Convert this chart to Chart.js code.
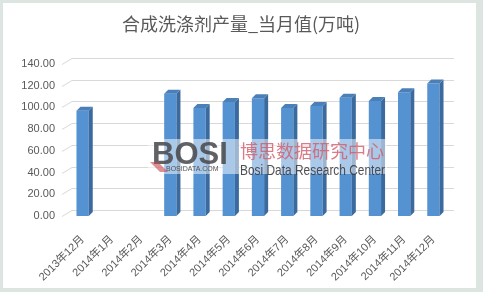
<!DOCTYPE html>
<html>
<head>
<meta charset="utf-8">
<script src="https://cdn.jsdelivr.net/npm/chart.js@4.4.1/dist/chart.umd.min.js"></script>
<style>
html,body{margin:0;padding:0;background:#dce5e0;}
#wrap{width:483px;height:292px;}
</style>
</head>
<body>
<div id="wrap"><canvas id="c" width="483" height="292"></canvas></div>
<script>
const titleText = '合成洗涤剂产量_当月值(万吨)';
const categories = ['2013年12月','2014年1月','2014年2月','2014年3月','2014年4月','2014年5月','2014年6月','2014年7月','2014年8月','2014年9月','2014年10月','2014年11月','2014年12月'];
const values = [97, null, null, 112.5, 99.5, 105, 108.5, 99.5, 101.3, 109, 106, 114, 122];
const yMin = 0, yMax = 140, yStep = 20;

const FONT = '"Liberation Sans", "Noto Sans CJK SC", sans-serif';
const DEPTH = 4;

const framePlugin = {
  id: 'frame',
  beforeDraw(chart) {
    const ctx = chart.ctx;
    ctx.save();
    ctx.fillStyle = '#dce5e0';
    ctx.fillRect(0, 0, chart.width, chart.height);
    ctx.fillStyle = '#ffffff';
    ctx.fillRect(3, 3, 473, 285);
    ctx.fillStyle = '#595959';
    ctx.font = '18px "Noto Sans CJK SC", sans-serif';
    ctx.textAlign = 'center';
    ctx.textBaseline = 'middle';
    ctx.fillText(titleText, 241, 24);
    ctx.restore();
  }
};

const wallGrid = {
  id: 'wallGrid',
  beforeDatasetsDraw(chart) {
    const ctx = chart.ctx, ys = chart.scales.y, ca = chart.chartArea;
    ctx.save();
    ctx.strokeStyle = '#d9d9d9';
    ctx.lineWidth = 1;
    ys.ticks.forEach(t => {
      const y = Math.round(ys.getPixelForValue(t.value)) + 0.5;
      ctx.beginPath();
      ctx.moveTo(ca.left - 6, y);
      ctx.lineTo(ca.left + 4, y - 6);
      ctx.lineTo(ca.right + 6, y - 6);
      ctx.stroke();
    });
    ctx.restore();
  }
};

const bars3d = {
  id: 'bars3d',
  afterDatasetsDraw(chart) {
    const ctx = chart.ctx;
    const meta = chart.getDatasetMeta(0);
    ctx.save();
    meta.data.forEach((el, i) => {
      if (values[i] == null) return;
      const w = el.width, l = el.x - w / 2, r = el.x + w / 2, top = el.y, base = el.base;
      ctx.fillStyle = '#3a6a9e';
      ctx.beginPath();
      ctx.moveTo(r, top);
      ctx.lineTo(r + DEPTH, top - DEPTH);
      ctx.lineTo(r + DEPTH, base - DEPTH);
      ctx.lineTo(r, base);
      ctx.closePath();
      ctx.fill();
      ctx.fillStyle = '#4a7fb8';
      ctx.beginPath();
      ctx.moveTo(l, top);
      ctx.lineTo(l + DEPTH, top - DEPTH);
      ctx.lineTo(r + DEPTH, top - DEPTH);
      ctx.lineTo(r, top);
      ctx.closePath();
      ctx.fill();
    });
    ctx.restore();
  }
};

const watermark = {
  id: 'watermark',
  afterDraw(chart) {
    const ctx = chart.ctx;
    ctx.save();
    ctx.fillStyle = 'rgba(255,255,255,0.5)';
    ctx.fillRect(148, 139, 239, 35);
    ctx.fillStyle = 'rgba(70,70,75,0.85)';
    ctx.font = 'bold 31px "Liberation Sans", sans-serif';
    ctx.textBaseline = 'alphabetic';
    ctx.textAlign = 'left';
    ctx.fillText('BOSI', 152, 164, 86);
    ctx.fillStyle = 'rgba(200,70,80,0.6)';
    ctx.beginPath();
    ctx.moveTo(150, 162); ctx.lineTo(158, 162); ctx.lineTo(168, 172); ctx.lineTo(160, 172); ctx.closePath();
    ctx.fill();
    ctx.fillStyle = 'rgba(70,70,75,0.9)';
    ctx.font = '7px "Liberation Sans", sans-serif';
    ctx.fillText('BOSIDATA.COM', 166, 171, 66);
    ctx.fillStyle = 'rgba(210,90,105,0.8)';
    ctx.font = '18px "Noto Sans CJK SC", sans-serif';
    ctx.fillText('博思数据研究中心', 240, 158, 146);
    ctx.fillStyle = 'rgba(60,60,65,0.9)';
    ctx.font = '15px "Liberation Sans", sans-serif';
    ctx.fillText('Bosi Data Research Center', 240, 175, 145);
    ctx.restore();
  }
};

new Chart(document.getElementById('c'), {
  type: 'bar',
  data: {
    labels: categories,
    datasets: [{
      data: values,
      backgroundColor: '#5592d2',
      borderWidth: 0,
      categoryPercentage: 1.0,
      barPercentage: 0.42
    }]
  },
  options: {
    responsive: false,
    animation: false,
    devicePixelRatio: 1,
    layout: { padding: { left: 10, right: 35, top: 64, bottom: 6 } },
    plugins: {
      legend: { display: false },
      tooltip: { enabled: false },
      title: { display: false }
    },
    scales: {
      y: {
        min: yMin, max: yMax,
        ticks: {
          stepSize: yStep,
          color: '#595959',
          font: { family: FONT, size: 11 },
          padding: 13,
          callback: v => Number(v).toFixed(2)
        },
        grid: { display: false, drawTicks: false },
        border: { display: false },
        afterFit: s => { s.width = 58; }
      },
      x: {
        ticks: {
          color: '#595959',
          font: { family: FONT, size: 11 },
          maxRotation: 45, minRotation: 45,
          autoSkip: false,
          padding: 9
        },
        grid: { display: false },
        border: { display: false },
        afterFit: s => { s.height = 70; }
      }
    }
  },
  plugins: [framePlugin, wallGrid, bars3d, watermark]
});
</script>
</body>
</html>
